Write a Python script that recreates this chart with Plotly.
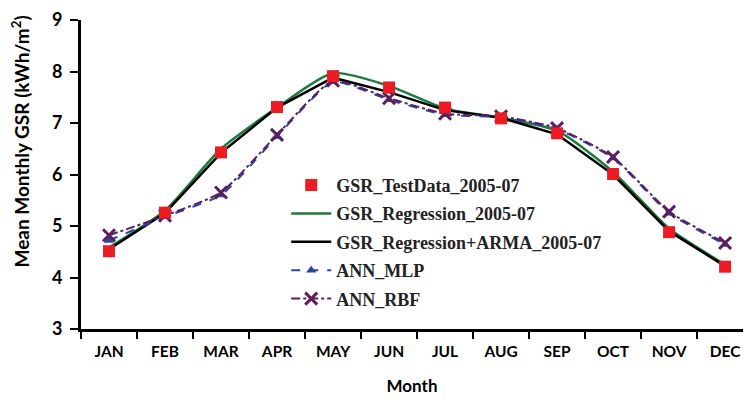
import plotly.graph_objects as go

months = ["JAN", "FEB", "MAR", "APR", "MAY", "JUN", "JUL", "AUG", "SEP", "OCT", "NOV", "DEC"]

gsr_test = [4.51, 5.26, 6.43, 7.31, 7.91, 7.69, 7.30, 7.09, 6.80, 6.01, 4.88, 4.21]
gsr_regression = [4.58, 5.30, 6.50, 7.30, 7.97, 7.72, 7.28, 7.10, 6.85, 6.05, 4.95, 4.25]
gsr_reg_arma = [4.55, 5.25, 6.42, 7.30, 7.88, 7.60, 7.25, 7.10, 6.78, 6.00, 4.90, 4.22]
ann_mlp = [4.72, 5.18, 5.60, 6.74, 7.80, 7.45, 7.16, 7.11, 6.88, 6.32, 5.25, 4.64]
ann_rbf = [4.82, 5.20, 5.65, 6.77, 7.82, 7.48, 7.18, 7.13, 6.90, 6.34, 5.28, 4.67]

fig = go.Figure()

fig.add_trace(go.Scatter(
    x=months, y=gsr_regression, mode='lines', name='GSR_Regression_2005-07',
    line=dict(color='#1E7A3E', width=2.5, shape='spline', smoothing=0.6),
    legendgroup='b', legendrank=2
))
fig.add_trace(go.Scatter(
    x=months, y=gsr_reg_arma, mode='lines', name='GSR_Regression+ARMA_2005-07',
    line=dict(color='black', width=2.5),
    legendgroup='c', legendrank=3
))
fig.add_trace(go.Scatter(
    x=months, y=ann_mlp, mode='lines+markers', name='ANN_MLP',
    line=dict(color='#2B45A6', width=2, dash='dash', shape='spline', smoothing=0.5),
    marker=dict(symbol='triangle-up', size=9, color='#2B45A6'),
    legendgroup='d', legendrank=4
))
fig.add_trace(go.Scatter(
    x=months, y=ann_rbf, mode='lines+markers', name='ANN_RBF',
    line=dict(color='#5C1F5E', width=2, dash='dashdot', shape='spline', smoothing=0.5),
    marker=dict(symbol='x-thin', size=12, color='#5C1F5E', line=dict(width=3, color='#5C1F5E')),
    legendgroup='e', legendrank=5
))
fig.add_trace(go.Scatter(
    x=months, y=gsr_test, mode='markers', name='GSR_TestData_2005-07',
    marker=dict(symbol='square', size=12, color='#ED1C24'),
    legendgroup='a', legendrank=1
))

# y title placed by hand: in the original it sits above the plot centre
fig.add_annotation(
    text='<b>Mean Monthly GSR (kWh/m<sup>2</sup>)</b>',
    xref='paper', yref='paper', x=-0.092, y=0.607,
    xanchor='center', yanchor='middle', textangle=-90, showarrow=False,
    font=dict(family='Lato, sans-serif', size=19, color='black')
)

fig.update_layout(
    width=735, height=388,
    margin=dict(l=73, r=0, t=12, b=66.5),
    plot_bgcolor='white', paper_bgcolor='white',
    showlegend=True,
    legend=dict(
        x=0.31, y=0.525, xanchor='left', yanchor='top',
        bgcolor='rgba(0,0,0,0)',
        font=dict(family='Liberation Serif, DejaVu Serif, serif', size=18, color='#222', weight='bold'),
        traceorder='grouped', tracegroupgap=2,
        itemwidth=40
    ),
    xaxis=dict(
        type='category', range=[-0.5, 11.32], automargin=False,
        showline=True, linecolor='black', linewidth=3,
        ticks='outside', tickson='boundaries', ticklen=7, tickwidth=2, tickcolor='black',
        showgrid=False, zeroline=False, ticklabelstandoff=6,
        tickfont=dict(family='Lato, sans-serif', size=15.5, color='black', weight='bold'),
        title=dict(text='<b>Month</b>', font=dict(family='Lato, sans-serif', size=17, color='black'), standoff=25),
    ),
    yaxis=dict(
        range=[3, 9], dtick=1, automargin=False,
        showline=True, linecolor='black', linewidth=3,
        ticks='outside', ticklen=8, tickwidth=2, tickcolor='black',
        showgrid=False, zeroline=False, ticklabelstandoff=4,
        tickfont=dict(family='Lato, sans-serif', size=18, color='black', weight='bold'),
    ),
)

fig.write_html("out.html")
